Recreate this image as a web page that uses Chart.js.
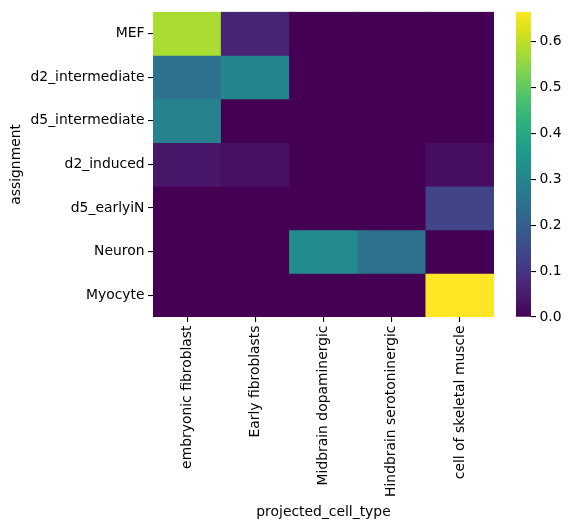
<!doctype html>
<html>
<head>
<title>Heatmap</title>
<script src="https://cdn.jsdelivr.net/npm/chart.js@4.4.0/dist/chart.umd.min.js"></script>
<style>
body { margin: 0; background: #fff; }
#wrap { position: relative; width: 572px; height: 528px; }
#wrap canvas { position: absolute; top: 0; }
</style>
</head>
<body>
<div id="wrap">
  <canvas id="heat" width="572" height="528" style="left:0"></canvas>
  <canvas id="cbar" width="72" height="330" style="left:500px"></canvas>
</div>
<script>
// rows (assignment) and columns (projected_cell_type)
var rows = ['MEF', 'd2_intermediate', 'd5_intermediate', 'd2_induced', 'd5_earlyiN', 'Neuron', 'Myocyte'];
var cols = ['embryonic fibroblast', 'Early fibroblasts', 'Midbrain dopaminergic', 'Hindbrain serotoninergic', 'cell of skeletal muscle'];

// one array per row
var MEF = [0.58, 0.066, 0, 0, 0];
var d2_intermediate = [0.25, 0.30, 0, 0, 0];
var d5_intermediate = [0.295, 0, 0, 0, 0];
var d2_induced = [0.04, 0.027, 0, 0, 0.022];
var d5_earlyiN = [0, 0, 0, 0, 0.133];
var Neuron = [0, 0, 0.313, 0.25, 0];
var Myocyte = [0, 0, 0, 0, 0.665];
var values = [MEF, d2_intermediate, d5_intermediate, d2_induced, d5_earlyiN, Neuron, Myocyte];

var cbTicks = [0, 0.1, 0.2, 0.3, 0.4, 0.5, 0.6];

var vmin = 0;
var vmax = Math.max.apply(null, values.map(function(r) { return Math.max.apply(null, r); }));

// viridis stops
var viridis = ['#440154', '#48186a', '#472d7b', '#424086', '#3b528b', '#33638d', '#2c728e', '#26828e',
  '#21918c', '#1fa088', '#28ae80', '#3fbc73', '#5ec962', '#84d44b', '#addc30', '#d8e219', '#fde725'];

function hex(c) { return [parseInt(c.substr(1, 2), 16), parseInt(c.substr(3, 2), 16), parseInt(c.substr(5, 2), 16)]; }

function cmap(v) {
  var t = (v - vmin) / (vmax - vmin);
  t = Math.max(0, Math.min(1, t));
  var p = t * (viridis.length - 1);
  var i = Math.min(Math.floor(p), viridis.length - 2);
  var f = p - i;
  var a = hex(viridis[i]), b = hex(viridis[i + 1]);
  return 'rgb(' + [0, 1, 2].map(function(k) { return Math.round(a[k] + (b[k] - a[k]) * f); }).join(',') + ')';
}

var font = { family: 'DejaVu Sans', size: 13.9 };
Chart.defaults.font = font;
Chart.defaults.color = '#000';

var datasets = rows.map(function(name, r) {
  return {
    label: name,
    data: cols.map(function() { return [r, r + 1]; }),
    backgroundColor: values[r].map(cmap),
    borderWidth: 0,
    barPercentage: 1,
    categoryPercentage: 1,
    grouped: false
  };
});

new Chart(document.getElementById('heat'), {
  type: 'bar',
  data: { labels: cols, datasets: datasets },
  options: {
    responsive: false,
    animation: false,
    layout: { padding: { top: 9, right: 78, left: 0, bottom: 0 } },
    plugins: { legend: { display: false }, tooltip: { enabled: false } },
    scales: {
      x: {
        grid: { offset: false, drawOnChartArea: false, drawTicks: true, tickLength: 5, color: '#000', lineWidth: 1.1 },
        border: { display: false },
        ticks: { autoSkip: false, minRotation: 90, maxRotation: 90, padding: 3.5, font: font },
        title: { display: true, text: 'projected_cell_type', font: font, padding: { top: 0, bottom: 7.5 } },
        afterFit: function(s) { s.height = 211; }
      },
      y: {
        min: 0, max: rows.length, reverse: true,
        grid: { drawOnChartArea: false, drawTicks: true, tickLength: 5, color: '#000', lineWidth: 1.1 },
        border: { display: false },
        afterBuildTicks: function(s) { s.ticks = rows.map(function(_, i) { return { value: i + 0.5 }; }); },
        ticks: { autoSkip: false, padding: 3.5, font: font, callback: function(v, i) { return rows[i]; } },
        title: { display: true, text: 'assignment', font: font, padding: { top: 8, bottom: 0 } },
        afterFit: function(s) { s.width = 153; }
      }
    }
  }
});

// colorbar
new Chart(document.getElementById('cbar'), {
  type: 'bar',
  data: {
    labels: [''],
    datasets: [{
      data: [[vmin, vmax]],
      borderWidth: 0,
      barPercentage: 1,
      categoryPercentage: 1,
      backgroundColor: function(ctx) {
        var area = ctx.chart.chartArea;
        if (!area) return viridis[0];
        var g = ctx.chart.ctx.createLinearGradient(0, area.bottom, 0, area.top);
        viridis.forEach(function(c, i) { g.addColorStop(i / (viridis.length - 1), c); });
        return g;
      }
    }]
  },
  options: {
    responsive: false,
    animation: false,
    layout: { padding: { top: 9, left: 16, right: 0, bottom: 13 } },
    plugins: { legend: { display: false }, tooltip: { enabled: false } },
    scales: {
      x: { display: false },
      y: {
        position: 'right',
        min: vmin, max: vmax,
        grid: { drawOnChartArea: false, drawTicks: true, tickLength: 5, color: '#000', lineWidth: 1.1 },
        border: { display: false },
        afterBuildTicks: function(s) { s.ticks = cbTicks.map(function(v) { return { value: v }; }); },
        ticks: { padding: 3.5, font: font, callback: function(v) { return v.toFixed(1); } },
        afterFit: function(s) { s.width = 41; }
      }
    }
  }
});
</script>
</body>
</html>
